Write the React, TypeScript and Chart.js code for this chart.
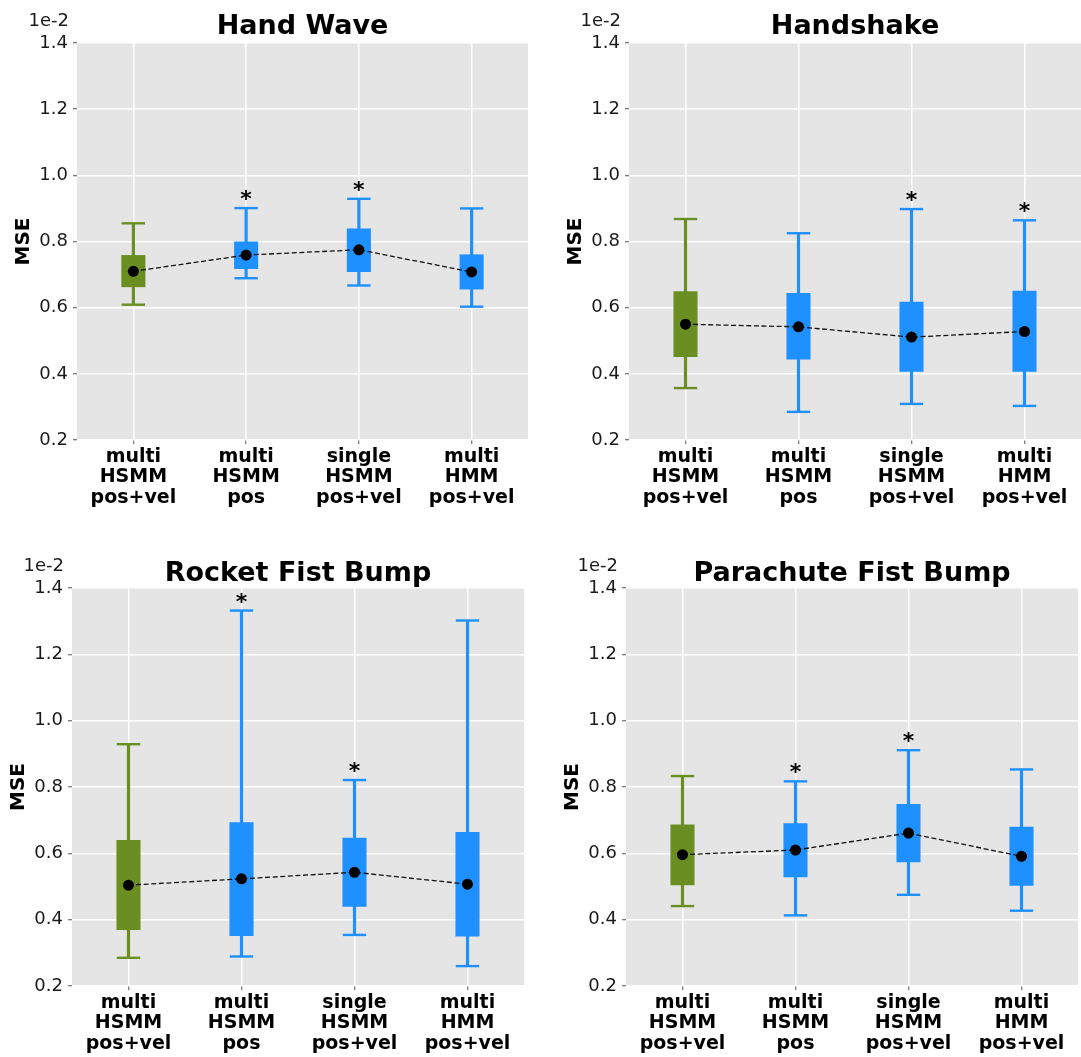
import React, { useEffect, useRef } from 'react';
import { Chart, registerables } from 'chart.js';

Chart.register(...registerables);

// ---- data (values are in units of 1e-2) ----
const categories = [
  ['multi', 'HSMM', 'pos+vel'],
  ['multi', 'HSMM', 'pos'],
  ['single', 'HSMM', 'pos+vel'],
  ['multi', 'HMM', 'pos+vel'],
];
const boxColors = ['#6B8E23', '#1E90FF', '#1E90FF', '#1E90FF'];
const yMin = 0.2;
const yMax = 1.4;
const yStep = 0.2;
const offsetLabel = '1e-2';
const yAxisLabel = 'MSE';
const titles = ['Hand Wave', 'Handshake', 'Rocket Fist Bump', 'Parachute Fist Bump'];

const handWaveLow = [0.609, 0.689, 0.667, 0.603];
const handWaveQ1 = [0.663, 0.718, 0.709, 0.656];
const handWaveQ3 = [0.758, 0.799, 0.838, 0.760];
const handWaveHigh = [0.855, 0.901, 0.929, 0.900];
const handWaveMean = [0.710, 0.759, 0.775, 0.708];
const handWaveStar = [false, true, true, false];

const handshakeLow = [0.357, 0.285, 0.309, 0.303];
const handshakeQ1 = [0.452, 0.444, 0.407, 0.407];
const handshakeQ3 = [0.649, 0.643, 0.617, 0.650];
const handshakeHigh = [0.868, 0.825, 0.898, 0.864];
const handshakeMean = [0.550, 0.542, 0.511, 0.528];
const handshakeStar = [false, false, true, true];

const rocketLow = [0.285, 0.289, 0.354, 0.260];
const rocketQ1 = [0.370, 0.352, 0.440, 0.350];
const rocketQ3 = [0.639, 0.693, 0.646, 0.663];
const rocketHigh = [0.929, 1.332, 0.821, 1.302];
const rocketMean = [0.504, 0.523, 0.543, 0.507];
const rocketStar = [false, true, true, false];

const parachuteLow = [0.441, 0.413, 0.475, 0.427];
const parachuteQ1 = [0.505, 0.529, 0.574, 0.503];
const parachuteQ3 = [0.686, 0.690, 0.748, 0.679];
const parachuteHigh = [0.833, 0.817, 0.911, 0.853];
const parachuteMean = [0.596, 0.610, 0.661, 0.591];
const parachuteStar = [false, true, true, false];

// ---- layout (page pixels) ----
const FONT = "'DejaVu Sans', sans-serif";
const Y_AXIS_W = 77;
const TOP_BLOCK = 43;
const X_AXIS_H = 88;

type PanelSpec = {
  title: string;
  low: number[]; q1: number[]; q3: number[]; high: number[]; mean: number[]; star: boolean[];
  plotL: number; plotT: number; plotR: number; plotB: number; titleGap: number;
};

const panels: PanelSpec[] = [
  { title: titles[0], low: handWaveLow, q1: handWaveQ1, q3: handWaveQ3, high: handWaveHigh, mean: handWaveMean, star: handWaveStar,
    plotL: 77, plotT: 43, plotR: 528, plotB: 440, titleGap: 16 },
  { title: titles[1], low: handshakeLow, q1: handshakeQ1, q3: handshakeQ3, high: handshakeHigh, mean: handshakeMean, star: handshakeStar,
    plotL: 629, plotT: 43, plotR: 1081, plotB: 440, titleGap: 16 },
  { title: titles[2], low: rocketLow, q1: rocketQ1, q3: rocketQ3, high: rocketHigh, mean: rocketMean, star: rocketStar,
    plotL: 72, plotT: 588, plotR: 524, plotB: 986, titleGap: 14.5 },
  { title: titles[3], low: parachuteLow, q1: parachuteQ1, q3: parachuteQ3, high: parachuteHigh, mean: parachuteMean, star: parachuteStar,
    plotL: 626, plotT: 588, plotR: 1078, plotB: 986, titleGap: 14.5 },
];

function Panel({ p }: { p: PanelSpec }) {
  const ref = useRef<HTMLCanvasElement | null>(null);
  const left = p.plotL - Y_AXIS_W;
  const top = p.plotT - TOP_BLOCK;
  const width = p.plotR - p.plotL + 2 * Y_AXIS_W; // symmetric so the title centres over the plot
  const height = TOP_BLOCK + (p.plotB - p.plotT) + X_AXIS_H;

  useEffect(() => {
    const canvas = ref.current;
    if (!canvas) return;

    const bgPlugin = {
      id: 'bg',
      beforeDraw(chart: any) {
        const { ctx, chartArea } = chart;
        ctx.save();
        ctx.fillStyle = '#E5E5E5';
        ctx.fillRect(chartArea.left, chartArea.top, chartArea.right - chartArea.left, chartArea.bottom - chartArea.top);
        ctx.restore();
      },
    };

    const annotPlugin = {
      id: 'annot',
      afterDatasetsDraw(chart: any) {
        const { ctx, chartArea } = chart;
        const xs = chart.scales.x;
        const ys = chart.scales.y;
        ctx.save();
        ctx.fillStyle = '#000';
        ctx.font = `bold 22px ${FONT}`;
        ctx.textAlign = 'center';
        ctx.textBaseline = 'alphabetic';
        p.star.forEach((s, i) => {
          if (!s) return;
          const x = xs.getPixelForValue(i);
          const y = ys.getPixelForValue(p.high[i]);
          ctx.fillText('*', x, y - 2);
        });
        ctx.font = `18px ${FONT}`;
        ctx.textAlign = 'right';
        ctx.textBaseline = 'middle';
        ctx.fillStyle = '#1a1a1a';
        ctx.fillText(offsetLabel, chartArea.left - 8, chartArea.top - 22);
        ctx.restore();
      },
    };

    const chart = new Chart(canvas, {
      type: 'bar',
      data: {
        labels: categories as any,
        datasets: [
          {
            type: 'bar',
            data: p.low.map((v, i) => [v, p.high[i]]) as any,
            backgroundColor: boxColors,
            borderWidth: 0,
            barThickness: 2.5,
            grouped: false,
            order: 5,
          } as any,
          {
            type: 'bar',
            data: p.q1.map((v, i) => [v, p.q3[i]]) as any,
            backgroundColor: boxColors,
            borderWidth: 0,
            barThickness: 23.4,
            grouped: false,
            order: 4,
          } as any,
          {
            type: 'line',
            data: p.high,
            showLine: false,
            pointStyle: 'line',
            pointRadius: 11.7,
            pointBorderWidth: 2.4,
            pointBorderColor: boxColors,
            pointBackgroundColor: boxColors,
            order: 3,
          } as any,
          {
            type: 'line',
            data: p.low,
            showLine: false,
            pointStyle: 'line',
            pointRadius: 11.7,
            pointBorderWidth: 2.4,
            pointBorderColor: boxColors,
            pointBackgroundColor: boxColors,
            order: 3,
          } as any,
          {
            type: 'line',
            data: p.mean,
            borderColor: '#111',
            borderWidth: 1.3,
            borderDash: [5, 2.6],
            tension: 0,
            pointRadius: 5.5,
            pointBackgroundColor: '#000',
            pointBorderWidth: 0,
            order: 1,
          } as any,
        ],
      },
      options: {
        responsive: false,
        animation: false,
        events: [],
        layout: { padding: 0 },
        plugins: {
          legend: { display: false },
          tooltip: { enabled: false },
          title: {
            display: true,
            text: p.title,
            color: '#000',
            font: { family: FONT, size: 27, weight: 'bold', lineHeight: 1 },
            padding: { top: TOP_BLOCK - p.titleGap - 13.5, bottom: p.titleGap - 13.5 },
          },
        },
        scales: {
          x: {
            offset: true,
            grid: { offset: false, color: '#FFFFFF', lineWidth: 1.5, tickColor: '#555', tickLength: 4, tickWidth: 1 },
            border: { display: false },
            ticks: {
              color: '#000',
              padding: 2.5,
              autoSkip: false,
              maxRotation: 0,
              font: { family: FONT, size: 19, weight: 'bold', lineHeight: '20.5px' as any },
            },
            afterFit(scale: any) {
              scale.height = X_AXIS_H;
              scale.paddingLeft = 0;
              scale.paddingRight = 0;
            },
          },
          y: {
            min: yMin,
            max: yMax,
            grid: { color: '#FFFFFF', lineWidth: 1.5, tickColor: '#555', tickLength: 4, tickWidth: 1 },
            border: { display: false },
            ticks: {
              stepSize: yStep,
              color: '#1a1a1a',
              padding: 5,
              font: { family: FONT, size: 18 },
              callback: (v: any) => Number(v).toFixed(1),
            },
            title: {
              display: true,
              text: yAxisLabel,
              color: '#000',
              font: { family: FONT, size: 20, weight: 'bold', lineHeight: 1.2 },
              padding: { top: 11.7, bottom: 0 },
            },
            afterFit(scale: any) {
              scale.width = Y_AXIS_W;
              scale.paddingTop = 0;
              scale.paddingBottom = 0;
            },
          },
          ySpacer: {
            type: 'linear',
            axis: 'y',
            position: 'right',
            min: yMin,
            max: yMax,
            grid: { display: false, drawTicks: false },
            border: { display: false },
            ticks: { display: false },
            afterFit(scale: any) {
              scale.width = Y_AXIS_W;
              scale.paddingTop = 0;
              scale.paddingBottom = 0;
            },
          },
        },
      },
      plugins: [bgPlugin, annotPlugin],
    } as any);
    return () => chart.destroy();
  }, [p]);

  return (
    <canvas
      ref={ref}
      width={width}
      height={height}
      style={{ position: 'absolute', left, top, width, height, display: 'block' }}
    />
  );
}

export default function App() {
  return (
    <div style={{ position: 'absolute', left: 0, top: 0, width: 1081, height: 1057, overflow: 'hidden', background: '#fff' }}>
      {panels.map((p) => (
        <Panel key={p.title} p={p} />
      ))}
    </div>
  );
}
